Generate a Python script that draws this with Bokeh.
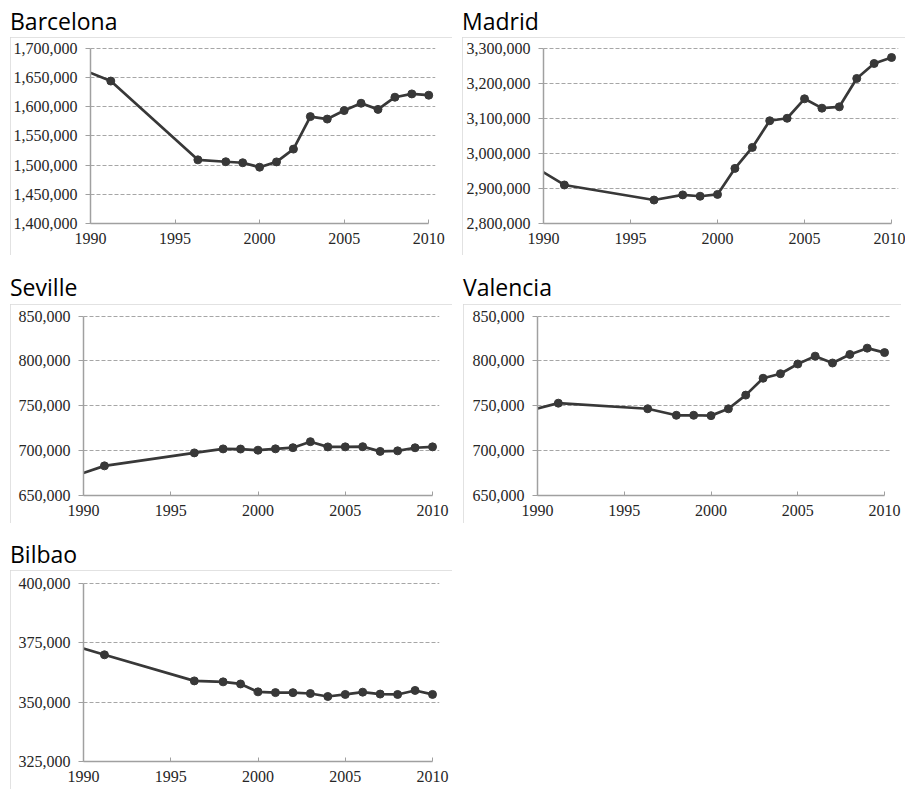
from bokeh.plotting import figure
from bokeh.layouts import column, row
from bokeh.models import Div, Spacer, FixedTicker, NumeralTickFormatter, Range1d
from bokeh.embed import file_html
from bokeh.resources import INLINE

# ---- data (population, 1986 point lies outside the 1990-2010 window and is clipped) ----
years = [1986.25, 1991.2, 1996.35, 1998, 1999, 2000, 2001, 2002, 2003,
         2004, 2005, 2006, 2007, 2008, 2009, 2010]
barcelona = [1701812, 1643542, 1508805, 1505581, 1503884, 1496266, 1505325, 1527190,
             1582738, 1578546, 1593075, 1605602, 1595110, 1615908, 1621537, 1619337]
madrid = [3058182, 2909792, 2866850, 2881506, 2877672, 2882860, 2957058, 3016788,
          3092759, 3099834, 3155359, 3128600, 3132463, 3213271, 3255944, 3273049]
seville = [650700, 683028, 697487, 701927, 701780, 700500, 702000, 703300,
           709975, 704154, 704203, 704414, 699145, 699759, 703206, 704198]
valencia = [728500, 752909, 746683, 739401, 739412, 739014, 746612, 761871,
            780653, 785732, 796549, 805304, 797654, 807200, 814208, 809267]
bilbao = [380800, 369839, 358875, 358467, 357589, 354271, 353950, 353943,
          353567, 352317, 353173, 354145, 353340, 353168, 354860, 353187]

x_ticks = [1990, 1995, 2000, 2005, 2010]
bcn_ticks = [1400000, 1450000, 1500000, 1550000, 1600000, 1650000, 1700000]
mad_ticks = [2800000, 2900000, 3000000, 3100000, 3200000, 3300000]
sev_ticks = [650000, 700000, 750000, 800000, 850000]
val_ticks = [650000, 700000, 750000, 800000, 850000]
bil_ticks = [325000, 350000, 375000, 400000]

titles = ["Barcelona", "Madrid", "Seville", "Valencia", "Bilbao"]

LINE = "#383838"
AXIS = "#a0a0a0"
GRID = "#a6a6a6"
LABEL = "#262626"
BOX = "#d9d9d9"


def make_panel(values, yticks, w, h, ml, mr, mt, mb):
    pad = (yticks[-1] - yticks[0]) * 0.003
    p = figure(width=w, height=h, output_backend="svg", toolbar_location=None,
               x_range=Range1d(x_ticks[0], x_ticks[-1] + 0.4),
               y_range=Range1d(yticks[0], yticks[-1] + pad),
               min_border_left=ml, min_border_right=mr,
               min_border_top=mt, min_border_bottom=mb,
               styles={"outline": f"1px solid {BOX}", "outline-offset": "-1px"})
    p.outline_line_color = None
    p.background_fill_color = "white"
    p.border_fill_color = "white"

    p.line(years, values, line_color=LINE, line_width=2.7)
    p.scatter(years, values, size=8, fill_color=LINE, line_color=LINE)

    xt = FixedTicker(ticks=x_ticks)
    yt = FixedTicker(ticks=yticks)
    p.xaxis.ticker = xt
    p.yaxis.ticker = yt
    p.ygrid.ticker = yt
    p.xgrid.visible = False
    p.ygrid.grid_line_color = GRID
    p.ygrid.grid_line_dash = "4 2"
    p.ygrid.grid_line_width = 1

    p.yaxis.formatter = NumeralTickFormatter(format="0,0")
    p.xaxis.bounds = (x_ticks[0], x_ticks[-1])
    p.yaxis.bounds = (yticks[0], yticks[-1])
    for ax in (p.xaxis, p.yaxis):
        ax.axis_line_color = AXIS
        ax.axis_line_width = 1.5
        ax.major_tick_line_color = AXIS
        ax.major_tick_line_width = 1
        ax.minor_tick_line_color = None
        ax.major_label_text_font = "Liberation Serif"
        ax.major_label_text_font_size = "16px"
        ax.major_label_text_color = LABEL
    p.xaxis.major_tick_in = 4
    p.xaxis.major_tick_out = 0
    p.xaxis.major_label_standoff = 9
    p.yaxis.major_tick_in = 0
    p.yaxis.major_tick_out = 5
    p.yaxis.major_label_standoff = 8
    return p


def title_div(text, w, h, pad_top):
    return Div(text=f'<div style="padding-top:{pad_top}px">{text}</div>',
               width=w, height=h,
               styles={"font-family": "Open Sans", "font-size": "23px",
                       "line-height": "23px", "color": "black", "margin": "0"})


p1 = make_panel(barcelona, bcn_ticks, 442, 218, 80, 17, 10, 32)
p2 = make_panel(madrid, mad_ticks, 443, 218, 81, 7, 10, 32)
p3 = make_panel(seville, sev_ticks, 442, 219, 73, 13, 11, 28)
p4 = make_panel(valencia, val_ticks, 438, 219, 74, 10, 11, 28)
p5 = make_panel(bilbao, bil_ticks, 442, 219, 73, 13, 12, 28)

r1 = row(Spacer(width=10, height=10),
         column(title_div(titles[0], 442, 37, 10), p1),
         Spacer(width=10, height=10),
         column(title_div(titles[1], 443, 37, 10), p2))
r2 = row(Spacer(width=10, height=10),
         column(title_div(titles[2], 442, 49, 21), p3),
         Spacer(width=11, height=10),
         column(title_div(titles[3], 438, 49, 21), p4))
r3 = row(Spacer(width=10, height=10),
         column(title_div(titles[4], 442, 47, 20), p5))

layout = column(r1, r2, r3)

open("out.html", "w").write(file_html(layout, INLINE))
